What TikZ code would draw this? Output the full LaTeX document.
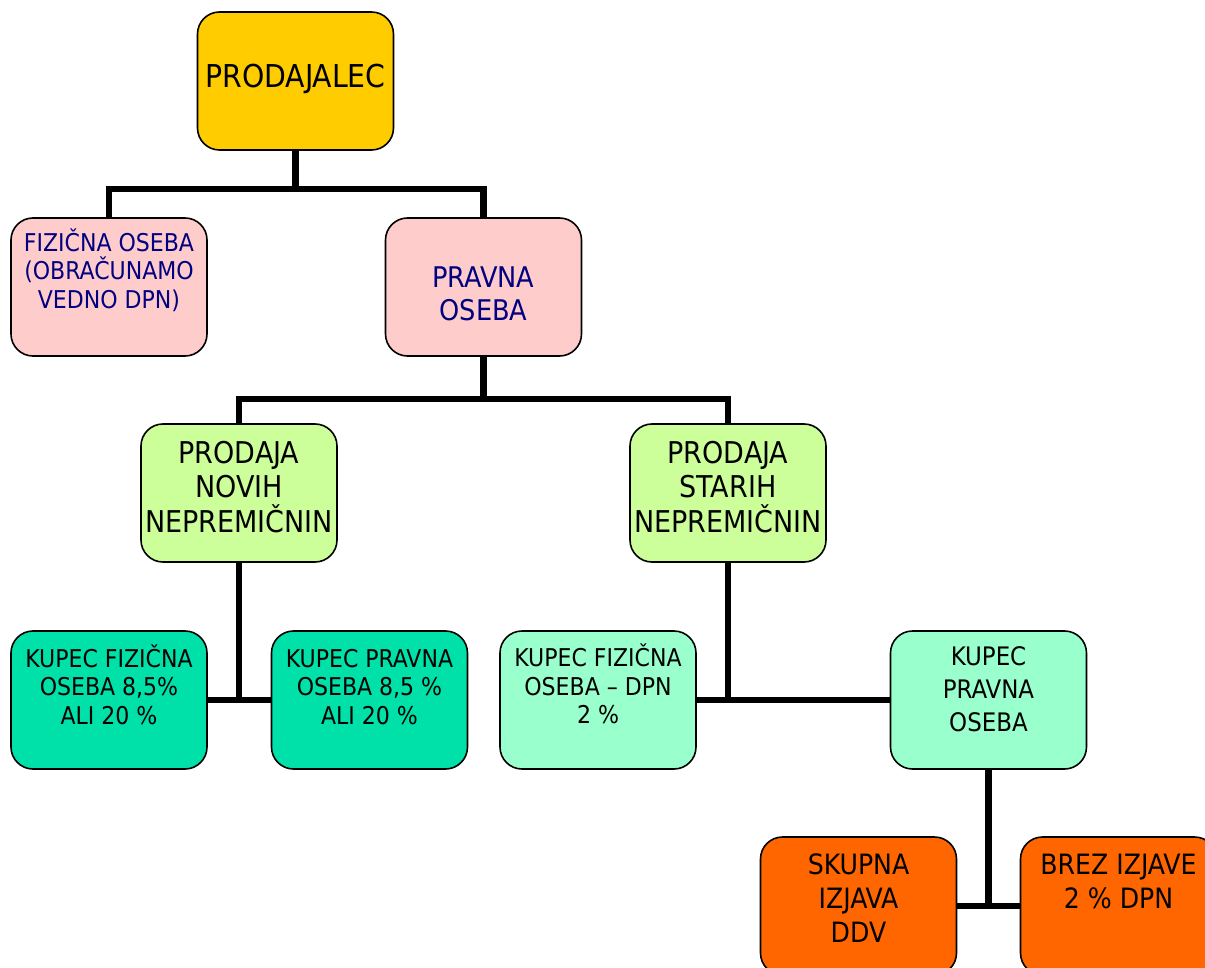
\documentclass[tikz,border=0pt]{standalone}
\usepackage{fontspec}
\setmainfont{DejaVu Sans Condensed}
\usepackage{tikz}
\usetikzlibrary{calc}
\definecolor{gold}{HTML}{FFCC00}
\definecolor{rosy}{HTML}{FFCCCC}
\definecolor{lime}{HTML}{CCFF99}
\definecolor{teal}{HTML}{00E1A9}
\definecolor{mint}{HTML}{99FFCC}
\definecolor{flame}{HTML}{FF6600}
\definecolor{navyink}{HTML}{000080}
\tikzstyle{box}  = [draw=black, line width=1.6pt, rounded corners=22pt, minimum width=196pt, minimum height=138pt, inner sep=0pt]
\tikzstyle{conn} = [line width=6.5pt]
% pad, font size, line skip, text
\newcommand{\boxtext}[4]{\parbox[c][134pt][t]{194pt}{\fontsize{#2}{#3}\selectfont\centering\vspace*{#1}\rule{0pt}{1em}#4}}

\begin{document}
\begin{tikzpicture}[x=1pt,y=-1pt]
		\useasboundingbox (0,0) rectangle (1205,968);
		\clip (0,0) rectangle (1205,968);

		\node[box, fill=gold] (seller) at (295.5,81) {\boxtext{42pt}{31.5pt}{36pt}{PRODAJALEC}};

		\node[box, fill=rosy, text=navyink] (fiz) at (109,287) {\boxtext{7pt}{24.5pt}{28.5pt}{FIZIČNA OSEBA\\(OBRAČUNAMO\\VEDNO DPN)}};
		\node[box, fill=rosy, text=navyink] (prav) at (483.5,287) {\boxtext{39pt}{28.5pt}{33pt}{PRAVNA\\OSEBA}};

		\node[box, fill=lime] (novih) at (239,493) {\boxtext{7pt}{30pt}{34.5pt}{PRODAJA\\NOVIH\\NEPREMIČNIN}};
		\node[box, fill=lime] (starih) at (728,493) {\boxtext{7pt}{30pt}{34.5pt}{PRODAJA\\STARIH\\NEPREMIČNIN}};

		\node[box, fill=teal] (kfiz) at (109,700) {\boxtext{9.5pt}{24.5pt}{28.5pt}{KUPEC FIZIČNA\\OSEBA 8,5\%\\ALI 20 \%}};
		\node[box, fill=teal] (kprav) at (369.5,700) {\boxtext{9.5pt}{24.5pt}{28.5pt}{KUPEC PRAVNA\\OSEBA 8,5 \%\\ALI 20 \%}};
		\node[box, fill=mint] (sfiz) at (598,700) {\boxtext{9.4pt}{24.5pt}{28.5pt}{KUPEC FIZIČNA\\OSEBA – DPN\\2 \%}};
		\node[box, fill=mint] (sprav) at (988.5,700) {\boxtext{7pt}{25.5pt}{33pt}{KUPEC\\PRAVNA\\OSEBA}};

		\node[box, fill=flame] (skup) at (858.5,906) {\boxtext{7pt}{28pt}{34pt}{SKUPNA\\IZJAVA\\DDV}};
		\node[box, fill=flame] (brez) at (1118.5,906) {\boxtext{7pt}{28pt}{34pt}{BREZ IZJAVE\\2 \% DPN}};

		% connectors
		\draw[conn] (seller.south) -- ++(0,38) coordinate (b1);
		\draw[conn] (fiz.north) |- (b1) -| (prav.north);

		\draw[conn] (prav.south) -- ++(0,42) coordinate (b2);
		\draw[conn] (novih.north) |- (b2) -| (starih.north);

		\draw[conn] (novih.south) -- (novih.south |- kfiz.east);
		\draw[conn] (kfiz.east) -- (kprav.west);

		\draw[conn] (starih.south) -- (starih.south |- sfiz.east);
		\draw[conn] (sfiz.east) -- (sprav.west);

		\draw[conn] (sprav.south) -- (sprav.south |- skup.east);
		\draw[conn] (skup.east) -- (brez.west);
	\end{tikzpicture}
\end{document}
